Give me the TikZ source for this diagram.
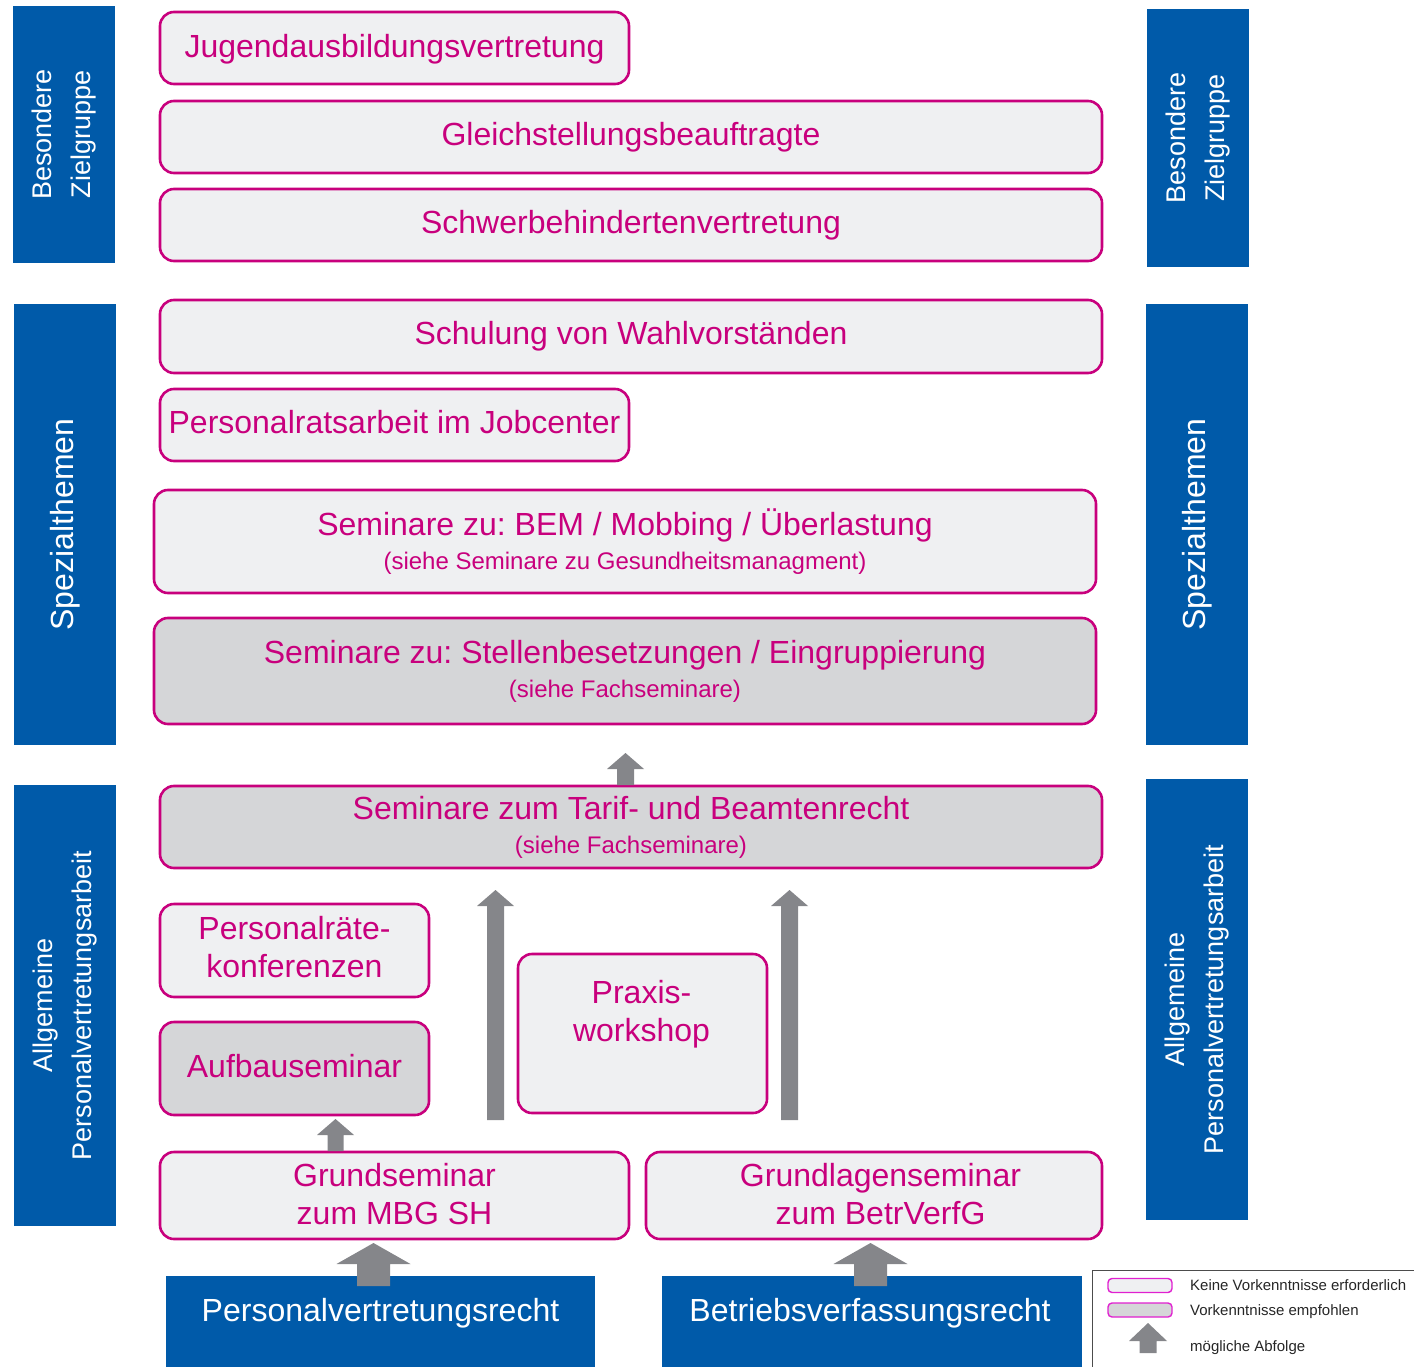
\documentclass[tikz,border=0pt]{standalone}
\usepackage{fontspec}
\setmainfont{Liberation Sans}
\usetikzlibrary{calc}
\frenchspacing
\definecolor{blu}{HTML}{005AA9}
\definecolor{mag}{HTML}{C8007D}
\definecolor{lightf}{HTML}{EFF0F2}
\definecolor{greyf}{HTML}{D5D6D8}
\definecolor{arrowgray}{HTML}{85868A}
\definecolor{legmag}{HTML}{E020D0}
\newcommand\subf{\fontsize{24}{30}\selectfont}
\newcommand\blockarrow[5]{% from, tip, shaft half, head half, head length
  \fill[arrowgray] let \p1=(#1), \p2=(#2) in
    (\x1-#3pt,\y1) -- (\x1-#3pt,\y2-#5pt) -- (\x1-#4pt,\y2-#5pt) -- (\x1,\y2)
    -- (\x1+#4pt,\y2-#5pt) -- (\x1+#3pt,\y2-#5pt) -- (\x1+#3pt,\y1) -- cycle;}
\begin{document}
\begin{tikzpicture}[x=1pt,y=-1pt,
  mbox/.style={draw=mag, line width=2.6pt, rounded corners=14pt, fill=lightf, inner sep=0pt,
     text=mag, align=center, font=\fontsize{32}{38}\selectfont},
  gbox/.style={mbox, fill=greyf},
  twoline/.style={font=\fontsize{32}{34}\selectfont},
  magtext/.style={text=mag, align=center, font=\fontsize{32}{38}\selectfont, inner sep=0pt},
  bar/.style={fill=blu, inner sep=0pt, text=white, align=center, font=\fontsize{27}{39}\selectfont},
  vbar/.style={bar, rotate=90},
  bigbar/.style={fill=blu, inner sep=0pt, minimum width=#1, minimum height=91},
  bartext/.style={text=white, font=\fontsize{32}{38}\selectfont, inner sep=0pt},
  legbox/.style={draw=legmag, line width=1.4pt, rounded corners=4pt, inner sep=0pt, minimum width=64, minimum height=14},
  legtext/.style={anchor=west, inner sep=0pt, text=black!85, font=\fontsize{15}{18}\selectfont}
]
\useasboundingbox (0,0) rectangle (1414,1367);

% side bars
\node[vbar, minimum width=257, minimum height=102] (l1) at (64,134.5) {Besondere\\Zielgruppe};
\node[vbar, minimum width=441, minimum height=102, font=\fontsize{32}{38}\selectfont] (l2) at (65,524.5) {\hspace*{0pt}\raisebox{0pt}{Spezialthemen}};
\node[vbar, minimum width=441, minimum height=102] (l3) at (65,1005.5) {Allgemeine\\Personalvertretungsarbeit};
\node[vbar, minimum width=258, minimum height=102] (r1) at (1198,138) {Besondere\\Zielgruppe};
\node[vbar, minimum width=441, minimum height=102, font=\fontsize{32}{38}\selectfont] (r2) at (1197,524.5) {Spezialthemen};
\node[vbar, minimum width=441, minimum height=102] (r3) at (1197,999.5) {Allgemeine\\Personalvertretungsarbeit};

% seminar boxes
\node[mbox, minimum width=469, minimum height=72] (jugend) at (394.5,48) {};
\node[magtext] (jugendtext) at (394.5,49.5) {Jugendausbildungsvertretung};
\node[mbox, minimum width=942, minimum height=72] (gleich) at (631,137) {Gleichstellungsbeauftragte};
\node[mbox, minimum width=942, minimum height=72] (schwer) at (631,225) {Schwerbehindertenvertretung};
\node[mbox, minimum width=942, minimum height=73] (wahl) at (631,336.5) {Schulung von Wahlvorständen};
\node[mbox, minimum width=469, minimum height=72] (jobc) at (394.5,425) {};
\node[magtext] (jobctext) at (394.5,422.5) {Personalratsarbeit im Jobcenter};
\node[mbox, twoline, minimum width=942, minimum height=103] (bem) at (625,541.5)
  {Seminare zu: BEM / Mobbing / Überlastung\\{\subf (siehe Seminare zu Gesundheitsmanagment)}};
\node[gbox, twoline, minimum width=942, minimum height=106] (stellen) at (625,671)
  {Seminare zu: Stellenbesetzungen / Eingruppierung\\{\subf (siehe Fachseminare)}};
\node[gbox, twoline, minimum width=942, minimum height=82] (tarif) at (631,827)
  {Seminare zum Tarif- und Beamtenrecht\\{\subf (siehe Fachseminare)}};
\node[mbox, minimum width=269, minimum height=93] (konf) at (294.5,950.5) {};
\node[magtext] (konftext) at (294.5,947.5) {Personalräte-\\konferenzen};
\node[gbox, minimum width=269, minimum height=93] (aufbau) at (294.5,1068.5) {};
\node[magtext] (aufbautext) at (294.5,1066) {Aufbauseminar};
\node[mbox, minimum width=249, minimum height=159] (praxis) at (642.5,1033.5) {};
\node[magtext] (praxistext) at ($(praxis.north)+(-1,62)$) {Praxis-\\workshop};
\node[mbox, minimum width=469, minimum height=87] (grund) at (394.5,1195.5) {};
\node[magtext] (grundtext) at (394.5,1194) {Grundseminar\\zum MBG SH};
\node[mbox, minimum width=456, minimum height=87] (grundl) at (874,1195.5) {};
\node[magtext] (grundltext) at (880.5,1194) {Grundlagenseminar\\zum BetrVerfG};

% bottom blue boxes
\node[bigbar=429] (pv) at (380.5,1321.5) {};
\node[bartext] (pvtext) at (380.5,1313) {Personalvertretungsrecht};
\node[bigbar=420] (bv) at (872,1321.5) {};
\node[bartext] (bvtext) at (870,1313) {Betriebsverfassungsrecht};

% arrows
\coordinate (a1b) at (625.5,785); \coordinate (a1t) at (625.5,753);
\blockarrow{a1b}{a1t}{8.5}{18.5}{16}
\coordinate (a2b) at (495.5,1120); \coordinate (a2t) at (495.5,890);
\blockarrow{a2b}{a2t}{8.5}{18.5}{16}
\coordinate (a3b) at (789.5,1120); \coordinate (a3t) at (789.5,890);
\blockarrow{a3b}{a3t}{8.5}{18.5}{16}
\coordinate (a4b) at (335.5,1151); \coordinate (a4t) at (335.5,1119);
\blockarrow{a4b}{a4t}{8}{18.5}{16}
\coordinate (a5b) at (373.5,1286); \coordinate (a5t) at (373.5,1243);
\blockarrow{a5b}{a5t}{16.5}{37}{21}
\coordinate (a6b) at (870.5,1286); \coordinate (a6t) at (870.5,1243);
\blockarrow{a6b}{a6t}{16.5}{37}{21}

% legend
\draw[black!70, line width=0.8pt] (1092,1367) -- (1092,1270) -- (1414,1270);
\node[legbox, fill=lightf] (lk1) at (1140,1285.5) {};
\node[legbox, fill=greyf] (lk2) at (1140,1310) {};
\coordinate (lab) at (1148,1353); \coordinate (lat) at (1148,1323);
\blockarrow{lab}{lat}{8.5}{19}{18}
\node[legtext] (lt1) at (1190,1285) {Keine Vorkenntnisse erforderlich};
\node[legtext] (lt2) at (1190,1311.5) {Vorkenntnisse empfohlen};
\node[legtext] (lt3) at (1190,1347.5) {mögliche Abfolge};
\end{tikzpicture}
\end{document}
